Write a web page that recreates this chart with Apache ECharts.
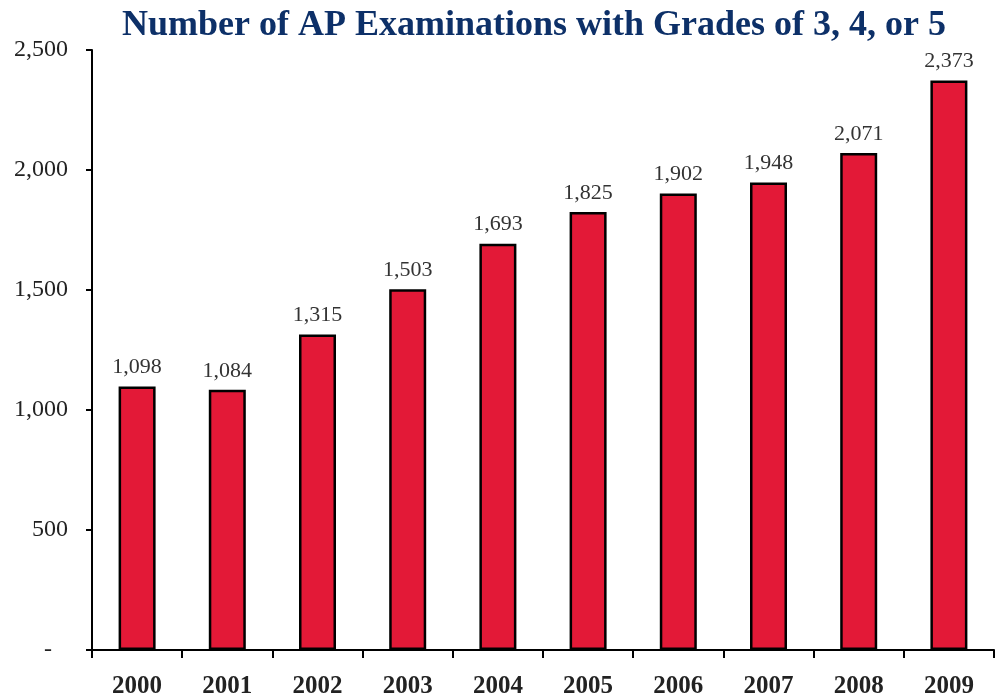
<!DOCTYPE html>
<html><head><meta charset="utf-8">
<script src="https://cdn.jsdelivr.net/npm/echarts@6/dist/echarts.min.js"></script>
<style>html,body{margin:0;padding:0;background:#fff}#c{width:995px;height:696px}</style>
</head><body><div id="c"></div>
<script>
const titleText = "Number of AP Examinations with Grades of 3, 4, or 5";
const years = ["2000","2001","2002","2003","2004","2005","2006","2007","2008","2009"];
const values = [1098,1084,1315,1503,1693,1825,1902,1948,2071,2373];
const yMin = 0, yMax = 2500, yStep = 500;

const chart = echarts.init(document.getElementById('c'));
chart.setOption({
  animation:false,
  title:{text:titleText,left:529,top:3,textAlign:'center',
    textStyle:{fontFamily:'Liberation Serif',fontWeight:'bold',fontSize:36,color:'#0d3068'}},
  grid:{left:92,right:1,top:50,bottom:46,containLabel:false,outerBoundsMode:'none'},
  xAxis:{type:'category',data:years,
    axisLine:{lineStyle:{color:'#000',width:2}},
    axisTick:{show:true,inside:false,length:8,lineStyle:{color:'#000',width:2}},
    axisLabel:{fontFamily:'Liberation Serif',fontWeight:'bold',fontSize:25,color:'#222',margin:24}},
  yAxis:{type:'value',min:yMin,max:yMax,interval:yStep,
    splitLine:{show:false},
    axisLine:{show:true,lineStyle:{color:'#000',width:2}},
    axisTick:{show:true,length:6,lineStyle:{color:'#000',width:2}},
    axisLabel:{fontFamily:'Liberation Serif',fontSize:24,color:'#222',margin:24,
      formatter:v=>v===0?'{z|-}':v.toLocaleString('en-US'),
      rich:{z:{fontFamily:'Liberation Serif',fontSize:24,color:'#222',padding:[0,16,0,0]}}}},
  series:[{type:'bar',data:values,barWidth:37,
    itemStyle:{color:'#e31937',borderColor:'#000',borderWidth:2.5},
    label:{show:true,position:'top',distance:8,fontFamily:'Liberation Serif',fontSize:22,color:'#333',
      formatter:p=>p.value.toLocaleString('en-US')}}]
});
</script></body></html>
